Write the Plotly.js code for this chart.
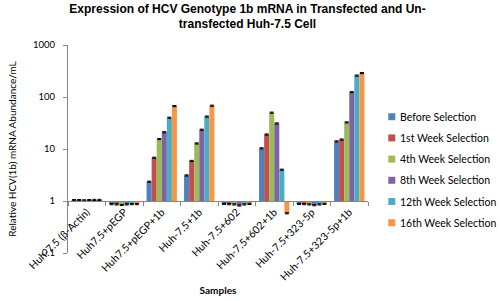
<!DOCTYPE html>
<html>
<head>
<meta charset="utf-8">
<script src="https://cdn.plot.ly/plotly-3.0.1.min.js"></script>
<style>html,body{margin:0;padding:0;background:#fff;}#chart{width:500px;height:301px;}</style>
</head>
<body>
<div id="chart"></div>
<script>
const categories = ["Huh-7.5 (β-Actin)", "Huh7.5+pEGP", "Huh7.5+pEGP+1b", "Huh-7.5+1b", "Huh-7.5+602", "Huh-7.5+602+1b", "Huh-7.5+323-5p", "Huh-7.5+323-5p+1b"];
const seriesNames = ["Before Selection", "1st Week Selection", "4th Week Selection", "8th Week Selection", "12th Week Selection", "16th Week Selection"];
const beforeSelection = [1.04, 0.87, 2.35, 3.1, 0.88, 10.3, 0.88, 14];
const week1Selection  = [1.04, 0.86, 6.8, 5.9, 0.87, 19, 0.87, 15.2];
const week4Selection  = [1.03, 0.84, 15.5, 12.8, 0.86, 50, 0.86, 32.5];
const week8Selection  = [1.04, 0.86, 21, 23.5, 0.82, 31, 0.83, 124];
const week12Selection = [1.05, 0.87, 40, 42, 0.86, 4.0, 0.86, 258];
const week16Selection = [1.05, 0.87, 67, 68, 0.88, 0.58, 0.88, 288];
const yTickVals = [0.1, 1, 10, 100, 1000];
const yTickText = ["0.1", "1", "10", "100", "1000"];

const allSeries = [beforeSelection, week1Selection, week4Selection, week8Selection, week12Selection, week16Selection];
const colors = ["#4F81BD", "#C0504D", "#9BBB59", "#8064A2", "#4BACC6", "#F79646"];
const baseValue = 1;

const W = 500, H = 301;
const M = {l: 68, r: 132, t: 45, b: 48};
const PW = W - M.l - M.r, PH = H - M.t - M.b;
const px2x = p => (p - M.l) / PW;
const px2y = p => (H - M.b - p) / PH;

const traces = allSeries.map((vals, i) => ({
  type: "bar",
  name: seriesNames[i],
  x: categories,
  y: vals.map(v => v - baseValue),
  base: vals.map(() => baseValue),
  marker: {color: colors[i], line: {width: 0}},
  error_y: {type: "percent", value: 2.5, color: "#000", thickness: 1, width: 2},
  showlegend: false,
  hoverinfo: "skip"
}));

// legend drawn as layout shapes + annotations
const legendTop = 116.7, legendStep = 21.2, sq = 7, sqLeft = 388.3, textLeft = 398;
const shapes = [], annotations = [];
seriesNames.forEach((name, i) => {
  const cy = legendTop + i * legendStep;
  shapes.push({
    type: "rect", xref: "paper", yref: "paper",
    x0: px2x(sqLeft), x1: px2x(sqLeft + sq),
    y0: px2y(cy + sq / 2), y1: px2y(cy - sq / 2),
    fillcolor: colors[i], line: {width: 0}
  });
  annotations.push({
    text: name, xref: "paper", yref: "paper",
    x: px2x(textLeft), y: px2y(cy), xanchor: "left", yanchor: "middle",
    showarrow: false,
    font: {family: "Lato, sans-serif", size: 10.5, color: "#000"}
  });
});

const layout = {
  width: W, height: H,
  margin: M,
  paper_bgcolor: "#fff", plot_bgcolor: "#fff",
  showlegend: false,
  title: {
    text: "Expression of HCV Genotype 1b mRNA in Transfected and Un-<br>transfected Huh-7.5 Cell",
    font: {family: "Liberation Sans, Arial, sans-serif", size: 12, color: "#000", weight: "bold"},
    x: 0.495, xref: "container", xanchor: "center",
    y: 0.958, yref: "container", yanchor: "top"
  },
  barmode: "group",
  bargap: 0.19,
  bargroupgap: 0,
  xaxis: {
    type: "category",
    anchor: "free",
    position: 0.25,
    showline: true, linecolor: "#868686", linewidth: 1,
    ticks: "outside", ticklen: 4, tickcolor: "#868686", tickson: "boundaries",
    tickangle: -45,
    tickfont: {family: "Lato, sans-serif", size: 10.5, color: "#000"},
    showgrid: false, zeroline: false,
    title: {text: "Samples", font: {family: "Lato, sans-serif", size: 10, color: "#000", weight: "bold"}, standoff: 5},
    automargin: false
  },
  yaxis: {
    type: "log",
    range: [-1, 3],
    tickvals: yTickVals, ticktext: yTickText,
    showline: true, linecolor: "#868686", linewidth: 1,
    ticks: "outside", ticklen: 4, tickcolor: "#868686",
    ticklabelstandoff: 6,
    tickfont: {family: "Lato, sans-serif", size: 9.5, color: "#000"},
    showgrid: false, zeroline: false,
    title: {text: "Relative HCV(1b) mRNA Abundance/mL", font: {family: "Lato, sans-serif", size: 10, color: "#000"}, standoff: 14},
    automargin: false
  },
  shapes: shapes,
  annotations: annotations
};

Plotly.newPlot("chart", traces, layout, {staticPlot: true, displayModeBar: false});
</script>
</body>
</html>
